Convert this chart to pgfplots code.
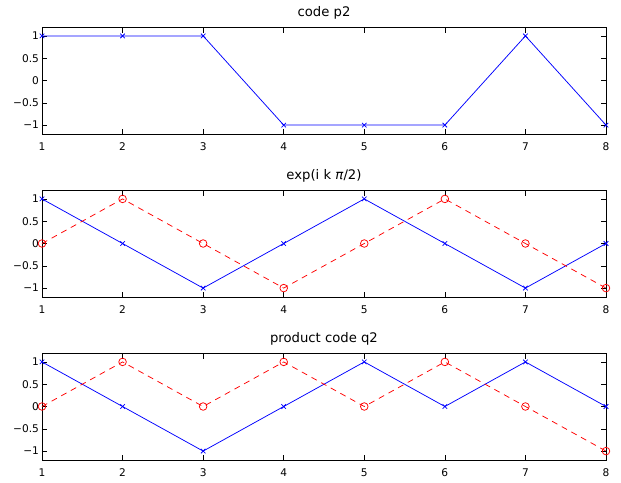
\documentclass[border=0pt]{standalone}
\usepackage{pgfplots}
\pgfplotsset{compat=1.18}
\usepackage{fontspec}
\setmainfont{DejaVu Sans}

\definecolor{mblue}{RGB}{0,0,255}
\definecolor{mred}{RGB}{255,0,0}

\pgfplotsset{
  panel/.style={
    scale only axis, width=564pt, height=107pt,
    xmin=1, xmax=8, ymin=-1.2, ymax=1.2,
    xtick={1,2,3,4,5,6,7,8},
    ytick={-1,-0.5,0,0.5,1},
    yticklabels={−1,−0.5,0,0.5,1},
    tick align=inside, major tick length=5.5pt,
    tick style={black, line width=0.5pt},
    axis line style={black, line width=0.9pt},
    ticklabel style={font=\fontsize{10.6}{12}\selectfont},
    /pgf/number format/assume math mode=true,
    xticklabel style={yshift=-5.5pt},
    yticklabel style={xshift=0.5pt},
    title style={font=\fontsize{13.2}{15}\selectfont, anchor=base, yshift=4.5pt},
    clip=false,
    anchor=south west,
  },
  real/.style={mblue, line width=0.75pt, mark=x, mark size=3.2pt, mark options={solid}},
  imag/.style={mred, line width=0.75pt, dash pattern=on 6pt off 5pt, mark=o, mark size=3.8pt, mark options={solid}},
}

\begin{document}
\begin{tikzpicture}
\useasboundingbox (0,0) rectangle (621pt,-482pt);

% code p2
\begin{axis}[panel, at={(42pt,-134pt)}, title={code p2}]
\addplot[real] coordinates {(1,1) (2,1) (3,1) (4,-1) (5,-1) (6,-1) (7,1) (8,-1)};
\end{axis}

% carrier exp(i k pi/2): real and imaginary parts
\begin{axis}[panel, at={(42pt,-297pt)}, title={exp(i k \textit{π}/2)}]
\addplot[real] coordinates {(1,1) (2,0) (3,-1) (4,0) (5,1) (6,0) (7,-1) (8,0)};
\addplot[imag] coordinates {(1,0) (2,1) (3,0) (4,-1) (5,0) (6,1) (7,0) (8,-1)};
\end{axis}

% product code q2
\begin{axis}[panel, at={(42pt,-460pt)}, title={product code q2}]
\addplot[real] coordinates {(1,1) (2,0) (3,-1) (4,0) (5,1) (6,0) (7,1) (8,0)};
\addplot[imag] coordinates {(1,0) (2,1) (3,0) (4,1) (5,0) (6,1) (7,0) (8,-1)};
\end{axis}
\end{tikzpicture}
\end{document}
